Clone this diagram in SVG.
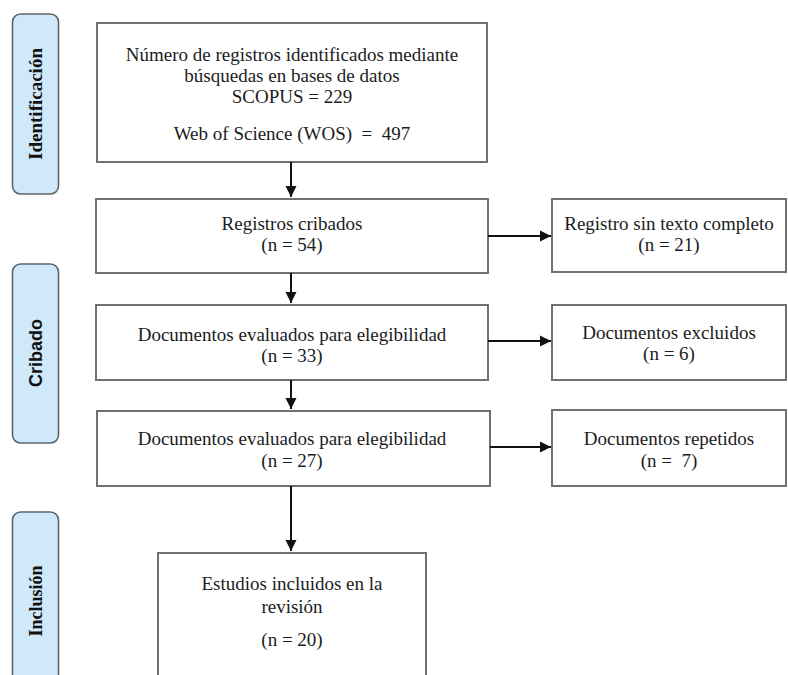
<svg xmlns="http://www.w3.org/2000/svg" width="788" height="675" viewBox="0 0 788 675">
  <defs>
    <marker id="ah" markerWidth="12" markerHeight="12" refX="11" refY="6" orient="auto" markerUnits="userSpaceOnUse">
      <path d="M0,0.5 L11,6 L0,11.5 Z" fill="#111"/>
    </marker>
    <style>
      .phase{fill:#cfe8fa;stroke:#5c666d;stroke-width:1.6}
      .box{fill:#fff;stroke:#707070;stroke-width:2}
      .t{font-family:"Liberation Serif","Times New Roman",serif;font-size:19px;fill:#1c1c1c;text-anchor:middle}
      .pl{font-family:"Liberation Serif","Times New Roman",serif;font-weight:bold;fill:#111;text-anchor:middle}
      .ps{font-family:"Liberation Sans",Arial,sans-serif;font-weight:bold;fill:#111;text-anchor:middle}
      .c{stroke:#111;stroke-width:2;fill:none}
    </style>
  </defs>
  <rect width="788" height="675" fill="#fff"/>

  <g id="phase-identificacion">
    <rect class="phase" x="12.5" y="14" width="46" height="180" rx="8"/>
    <text class="pl" font-size="19" transform="translate(42,104) rotate(-90)">Identificación</text>
  </g>
  <g id="phase-cribado">
    <rect class="phase" x="12.5" y="264" width="46" height="179" rx="8"/>
    <text class="ps" font-size="18" transform="translate(42,353) rotate(-90)">Cribado</text>
  </g>
  <g id="phase-inclusion">
    <rect class="phase" x="12.5" y="512" width="46" height="180" rx="8"/>
    <text class="pl" font-size="18" transform="translate(42,601) rotate(-90)">Inclusión</text>
  </g>

  <g id="n-identificados">
    <rect class="box" x="97" y="23" width="390" height="139"/>
    <text class="t" x="292" y="61">Número de registros identificados mediante</text>
    <text class="t" x="292" y="82">búsquedas en bases de datos</text>
    <text class="t" x="292" y="103">SCOPUS = 229</text>
    <text class="t" x="292" y="140" xml:space="preserve">Web of Science (WOS)  =  497</text>
  </g>
  <g id="n-cribados">
    <rect class="box" x="96" y="199" width="392" height="74"/>
    <text class="t" x="292" y="230">Registros cribados</text>
    <text class="t" x="292" y="251">(n = 54)</text>
  </g>
  <g id="n-sin-texto">
    <rect class="box" x="552" y="199" width="234" height="73"/>
    <text class="t" x="669" y="230">Registro sin texto completo</text>
    <text class="t" x="669" y="251">(n = 21)</text>
  </g>
  <g id="n-evaluados1">
    <rect class="box" x="96" y="305" width="392" height="75"/>
    <text class="t" x="292" y="341">Documentos evaluados para elegibilidad</text>
    <text class="t" x="292" y="362">(n = 33)</text>
  </g>
  <g id="n-excluidos">
    <rect class="box" x="552" y="305" width="234" height="75"/>
    <text class="t" x="669" y="339">Documentos excluidos</text>
    <text class="t" x="669" y="360">(n = 6)</text>
  </g>
  <g id="n-evaluados2">
    <rect class="box" x="97" y="411" width="393" height="75"/>
    <text class="t" x="292" y="445">Documentos evaluados para elegibilidad</text>
    <text class="t" x="292" y="467">(n = 27)</text>
  </g>
  <g id="n-repetidos">
    <rect class="box" x="552" y="410" width="234" height="76"/>
    <text class="t" x="669" y="445">Documentos repetidos</text>
    <text class="t" x="669" y="467" xml:space="preserve">(n =  7)</text>
  </g>
  <g id="n-incluidos">
    <rect class="box" x="158" y="553" width="268" height="140"/>
    <text class="t" x="292" y="590">Estudios incluidos en la</text>
    <text class="t" x="292" y="613">revisión</text>
    <text class="t" x="292" y="646">(n = 20)</text>
  </g>

  <g id="connectors">
    <line class="c" x1="291" y1="162" x2="291" y2="197" marker-end="url(#ah)"/>
    <line class="c" x1="291" y1="273" x2="291" y2="303" marker-end="url(#ah)"/>
    <line class="c" x1="291" y1="380" x2="291" y2="409" marker-end="url(#ah)"/>
    <line class="c" x1="291" y1="486" x2="291" y2="551" marker-end="url(#ah)"/>
    <line class="c" x1="488" y1="236" x2="551" y2="236" marker-end="url(#ah)"/>
    <line class="c" x1="488" y1="341" x2="551" y2="341" marker-end="url(#ah)"/>
    <line class="c" x1="490" y1="447" x2="551" y2="447" marker-end="url(#ah)"/>
  </g>
</svg>
